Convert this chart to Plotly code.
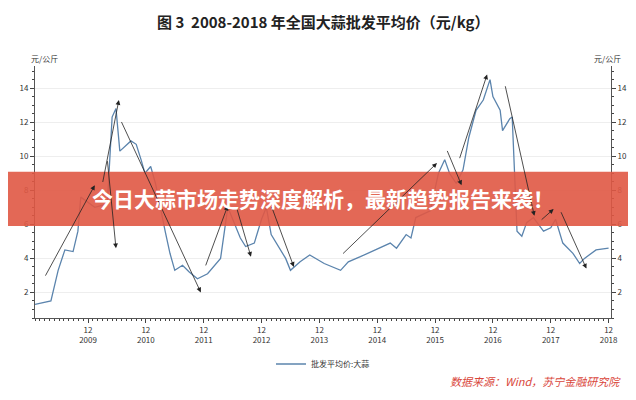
import plotly.graph_objects as go

# monthly index 0 = Jan 2008
months = [0, 3.3, 4.8, 6.2, 7.9, 8.9, 9.5, 10.5, 12.4, 15, 16, 16.8, 17.6, 19.9, 21, 22, 22.8, 24, 25,
          27, 28, 29, 30.6, 32, 33.7, 35.8, 38.5, 40, 42.6, 43.7, 45.5, 47, 48, 49, 52, 53, 55, 57, 60,
          63.4, 65, 67.5, 73.7, 75, 77, 78, 79, 82, 83.7, 85, 86, 87.4, 88.8, 90, 91.5, 93, 94.4, 95,
          96.5, 97, 98.5, 99, 100, 101, 102, 103.4, 105.5, 107, 108, 109.5, 111.6, 113, 114, 116.4, 119]
price = [1.3, 1.5, 3.3, 4.5, 4.4, 5.6, 7.6, 7.4, 7.0, 7.2, 12.3, 12.8, 10.3, 10.9, 10.7, 9.8, 9.0, 9.4, 8.4,
         5.6, 4.3, 3.3, 3.6, 3.2, 2.8, 3.1, 4.0, 7.0, 5.2, 4.7, 4.9, 6.3, 7.0, 5.4, 4.0, 3.3, 3.8, 4.2, 3.7,
         3.3, 3.8, 4.1, 4.9, 4.6, 5.4, 5.2, 6.4, 6.8, 9.0, 9.8, 9.0, 8.4, 9.2, 11.1, 12.7, 13.3, 14.5, 13.5,
         12.7, 11.5, 12.2, 12.3, 5.6, 5.3, 6.1, 6.4, 5.6, 5.8, 6.3, 4.9, 4.3, 3.7, 4.0, 4.5, 4.6]

tick_months = [11, 23, 35, 47, 59, 71, 83, 95, 107, 119]
tick_labels = ["12<br>2009", "12<br>2010", "12<br>2011", "12<br>2012", "12<br>2013",
               "12<br>2014", "12<br>2015", "12<br>2016", "12<br>2017", "12<br>2018"]

# trend arrows: (start month, start value, end month, end value)
arrows = [(2, 2.9, 12.4, 8.3), (14, 8.4, 17.4, 13.3), (17.8, 12.1, 34.4, 2.0), (15, 9.8, 16.8, 4.6),
          (35.3, 3.5, 40, 7.1), (41.7, 7.1, 44.8, 4.1), (49, 7.1, 53.7, 3.5), (63.6, 4.2, 83.4, 9.6),
          (85.4, 10.4, 88.5, 8.3), (88, 9.8, 93.8, 14.8), (97.5, 14.2, 103.6, 6.5),
          (104.8, 6.2, 107.6, 6.9), (109, 6.8, 114.4, 3.4)]

fig = go.Figure()
fig.add_trace(go.Scatter(x=months, y=price, mode="lines", name="批发平均价:大蒜",
                         line=dict(color="#5b84ad", width=1.3)))
fig.add_trace(go.Scatter(x=[0], y=[None], yaxis="y2", showlegend=False))

for x0, y0, x1, y1 in arrows:
    fig.add_annotation(x=x1, y=y1, ax=x0, ay=y0, xref="x", yref="y", axref="x", ayref="y",
                       showarrow=True, arrowhead=2, arrowsize=1.2, arrowwidth=0.8, arrowcolor="#222", text="")

fig.add_shape(type="rect", xref="paper", yref="paper", x0=-0.1, x1=1.1, y0=0.365, y1=0.58,
              fillcolor="rgba(224,88,68,0.9)", line_width=0)
fig.add_annotation(text="<b>今日大蒜市场走势深度解析，最新趋势报告来袭！</b>", xref="paper", yref="paper",
                   x=0.5, y=0.475, showarrow=False, font=dict(size=21, color="white", family="Noto Sans CJK SC"))
fig.add_annotation(text="<b>图 3  2008-2018 年全国大蒜批发平均价（元/kg）</b>", xref="paper", yref="paper",
                   x=0.5, y=1.225, showarrow=False, font=dict(size=15, color="#222"))
fig.add_annotation(text="<i>数据来源：Wind，苏宁金融研究院</i>", xref="paper", yref="paper",
                   x=1.02, y=-0.29, xanchor="right", showarrow=False, font=dict(size=11, color="#d9463a"))
for xp, anc in [(-0.01, "left"), (1.02, "right")]:
    fig.add_annotation(text="元/公斤", xref="paper", yref="paper", x=xp, y=1.0, xanchor=anc,
                       yanchor="bottom", showarrow=False, font=dict(size=8, color="#333"))

yax = dict(range=[0.5, 15.3], tickvals=[2, 4, 6, 8, 10, 12, 14], showgrid=True, gridcolor="#eee",
           showline=True, linecolor="#555", ticks="outside", ticklen=4, tickfont=dict(size=8, color="#333"),
           minor=dict(ticks="outside", ticklen=2, dtick=0.5), zeroline=False)
fig.update_layout(
    width=636, height=400, plot_bgcolor="white", paper_bgcolor="white",
    margin=dict(l=27, r=33, t=58, b=90),
    font=dict(family="Noto Sans CJK SC"),
    xaxis=dict(range=[0, 119.5], tickvals=tick_months, ticktext=tick_labels, showgrid=False,
               showline=True, linecolor="#555", ticks="outside", ticklen=4, tickfont=dict(size=8, color="#333"),
               minor=dict(ticks="outside", ticklen=2, dtick=1, tick0=0)),
    yaxis=yax,
    yaxis2=dict(yax, overlaying="y", side="right", showgrid=False),
    showlegend=True,
    legend=dict(orientation="h", x=0.5, xanchor="center", y=-0.125, font=dict(size=8, color="#333")),
)
fig.write_html("out.html")
